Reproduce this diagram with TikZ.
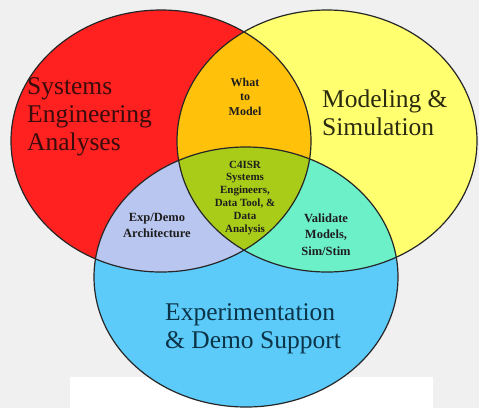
\documentclass[tikz,border=0pt]{standalone}
\usepackage{fontspec}
\setmainfont{Liberation Serif}
\definecolor{bgc}{HTML}{F0F0F0}
\definecolor{cred}{HTML}{FF2020}
\definecolor{cyel}{HTML}{FFFF70}
\definecolor{cblu}{HTML}{5CCBFA}
\definecolor{cora}{HTML}{FFC10A}
\definecolor{clav}{HTML}{B9C6F0}
\definecolor{caqu}{HTML}{6CF0C8}
\definecolor{cgrn}{HTML}{A9CC18}
\definecolor{tred}{HTML}{3A0C0C}
\definecolor{tyel}{HTML}{2A2A10}
\definecolor{tblu}{HTML}{0C3448}
\definecolor{tsml}{HTML}{1E1E1E}
\tikzset{
  outline/.style={draw=black!85, line width=1.2pt},
  biglabel/.style={inner sep=0pt, font=\fontsize{25.5}{28}\selectfont},
  smalllabel/.style={inner sep=0pt, text=tsml, font=\bfseries\fontsize{11}{12.8}\selectfont, align=center},
  midlabel/.style={inner sep=0pt, text=tsml, font=\bfseries\fontsize{12.5}{15.5}\selectfont, align=center}
}
\begin{document}
\begin{tikzpicture}[x=1pt,y=-1pt]
\useasboundingbox (0,0) rectangle (479,408);
\fill[bgc] (0,0) rectangle (479,408);
\fill[white] (70,377) rectangle (433,408);
% circle fills
\fill[cred] (161,141) ellipse [x radius=150, y radius=131];
\fill[cyel] (327,141) ellipse [x radius=150, y radius=131];
\fill[cblu] (246,277) ellipse [x radius=152, y radius=130];
\begin{scope}
  \clip (161,141) ellipse [x radius=150, y radius=131];
  \fill[cora] (327,141) ellipse [x radius=150, y radius=131];
  \fill[clav] (246,277) ellipse [x radius=152, y radius=130];
\end{scope}
\begin{scope}
  \clip (327,141) ellipse [x radius=150, y radius=131];
  \fill[caqu] (246,277) ellipse [x radius=152, y radius=130];
\end{scope}
\begin{scope}
  \clip (161,141) ellipse [x radius=150, y radius=131];
  \clip (327,141) ellipse [x radius=150, y radius=131];
  \fill[cgrn] (246,277) ellipse [x radius=152, y radius=130];
\end{scope}
% outlines
\draw[outline] (161,141) ellipse [x radius=150, y radius=131];
\draw[outline] (327,141) ellipse [x radius=150, y radius=131];
\draw[outline] (246,277) ellipse [x radius=152, y radius=130];
% labels (base anchor = baseline of the last line)
\node[biglabel, text=tred, align=left, anchor=base west] (sea) at (27,150) {Systems\\Engineering\\Analyses};
\node[biglabel, text=tyel, align=left, anchor=base west] (ms) at (322,135) {Modeling \&\\Simulation};
\node[biglabel, text=tblu, align=left, anchor=base west] (eds) at (165,348) {Experimentation\\\& Demo Support};
\node[midlabel, font=\bfseries\fontsize{12}{14.5}\selectfont, anchor=base] (wtm) at (245,115) {What\\to\\Model};
\node[smalllabel, anchor=base] (c4) at (245,232) {C4ISR\\Systems\\Engineers,\\Data Tool, \&\\Data\\Analysis};
\node[midlabel, anchor=base] (eda) at (157,237) {Exp/Demo\\Architecture};
\node[midlabel, font=\bfseries\fontsize{12.5}{16.5}\selectfont, anchor=base] (vms) at (326,255) {Validate\\Models,\\Sim/Stim};
\end{tikzpicture}
\end{document}
